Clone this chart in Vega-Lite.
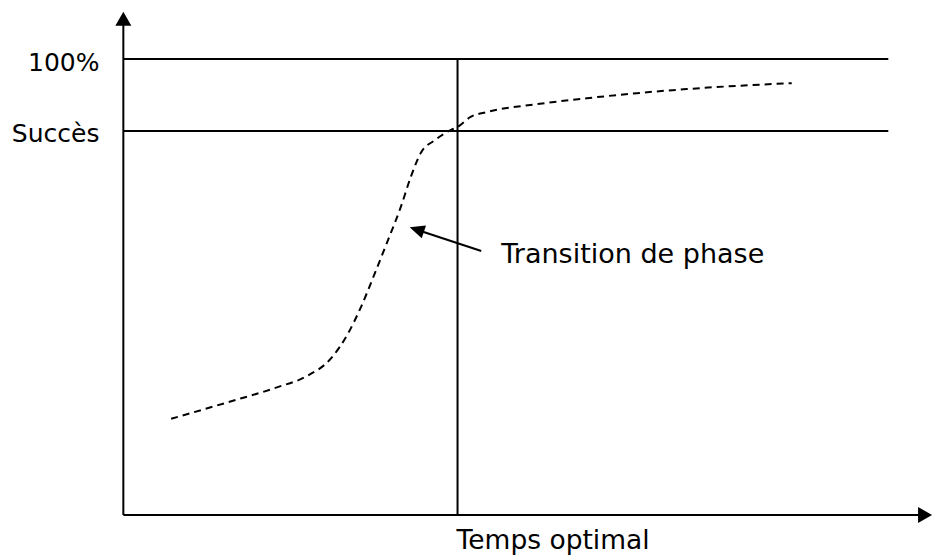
{
  "$schema": "https://vega.github.io/schema/vega-lite/v6.json",
  "width": 933,
  "height": 556,
  "padding": 0,
  "autosize": {"type": "fit", "contains": "padding"},
  "background": "white",
  "config": {"view": {"stroke": null}},
  "encoding": {
    "x": {"field": "x", "type": "quantitative", "scale": {"domain": [-36.905, 240.774], "nice": false, "zero": false}, "axis": null},
    "y": {"field": "y", "type": "quantitative", "scale": {"domain": [-8.991, 112.939], "nice": false, "zero": false}, "axis": null}
  },
  "layer": [
    {
      "data": {"values": [
        {"name": "axe y", "x": 0, "y": 0, "x2": 0, "y2": 108.5},
        {"name": "axe x", "x": 0, "y": 0, "x2": 238.4, "y2": 0},
        {"name": "100%", "x": 0, "y": 100, "x2": 228.9, "y2": 100},
        {"name": "Succès", "x": 0, "y": 84.2, "x2": 228.9, "y2": 84.2},
        {"name": "Temps optimal", "x": 100, "y": 0, "x2": 100, "y2": 100}
      ]},
      "mark": {"type": "rule", "color": "black", "strokeWidth": 2},
      "encoding": {"x2": {"field": "x2"}, "y2": {"field": "y2"}}
    },
    {
      "data": {"values": [
        {"x": 14.3, "y": 21.1},
        {"x": 30.7, "y": 24.6},
        {"x": 46.4, "y": 28.1},
        {"x": 54.5, "y": 30.3},
        {"x": 62.2, "y": 34.4},
        {"x": 67.3, "y": 39.9},
        {"x": 71.1, "y": 45.6},
        {"x": 75.3, "y": 53.1},
        {"x": 79.2, "y": 60.3},
        {"x": 83.0, "y": 67.5},
        {"x": 86.0, "y": 74.1},
        {"x": 89.0, "y": 79.4},
        {"x": 93.2, "y": 82.2},
        {"x": 97.9, "y": 84.4},
        {"x": 100.0, "y": 85.1},
        {"x": 103.9, "y": 87.3},
        {"x": 108.9, "y": 88.4},
        {"x": 123.8, "y": 90.1},
        {"x": 138.7, "y": 91.4},
        {"x": 153.6, "y": 92.5},
        {"x": 168.5, "y": 93.4},
        {"x": 183.3, "y": 94.1},
        {"x": 200.0, "y": 94.7}
      ]},
      "mark": {"type": "line", "color": "black", "strokeWidth": 2, "strokeDash": [7, 5], "interpolate": "monotone"}
    },
    {
      "data": {"values": [{"x": 0, "y": 108.8}]},
      "mark": {"type": "point", "shape": "M0,-0.875L1,0.875L-1,0.875Z", "size": 256, "filled": true, "color": "black", "opacity": 1, "strokeWidth": 0}
    },
    {
      "data": {"values": [{"x": 239.9, "y": 0}]},
      "mark": {"type": "point", "shape": "M0.875,0L-0.875,-1L-0.875,1Z", "size": 256, "filled": true, "color": "black", "opacity": 1, "strokeWidth": 0}
    },
    {
      "data": {"values": [{"x": 107.1, "y": 57.9, "x2": 88.5, "y2": 62.4}]},
      "mark": {"type": "rule", "color": "black", "strokeWidth": 2},
      "encoding": {"x2": {"field": "x2"}, "y2": {"field": "y2"}}
    },
    {
      "data": {"values": [{"x": 87.8, "y": 62.6}]},
      "mark": {"type": "point", "shape": "M1,0L-1,-0.9L-1,0.9Z", "size": 225, "angle": 198.4, "filled": true, "color": "black", "opacity": 1, "strokeWidth": 0}
    },
    {
      "data": {"values": [
        {"label": "100%", "x": -7.14, "y": 97.4},
        {"label": "Succès", "x": -7.14, "y": 81.8}
      ]},
      "mark": {"type": "text", "align": "right", "baseline": "alphabetic", "font": "DejaVu Sans", "fontSize": 25, "color": "black"},
      "encoding": {"text": {"field": "label"}}
    },
    {
      "data": {"values": [
        {"label": "Temps optimal", "x": 128.6, "y": -7.4}
      ]},
      "mark": {"type": "text", "align": "center", "baseline": "alphabetic", "font": "DejaVu Sans", "fontSize": 26.5, "color": "black"},
      "encoding": {"text": {"field": "label"}}
    },
    {
      "data": {"values": [
        {"label": "Transition de phase", "x": 113.1, "y": 55.3}
      ]},
      "mark": {"type": "text", "align": "left", "baseline": "alphabetic", "font": "DejaVu Sans", "fontSize": 27, "color": "black"},
      "encoding": {"text": {"field": "label"}}
    }
  ]
}
